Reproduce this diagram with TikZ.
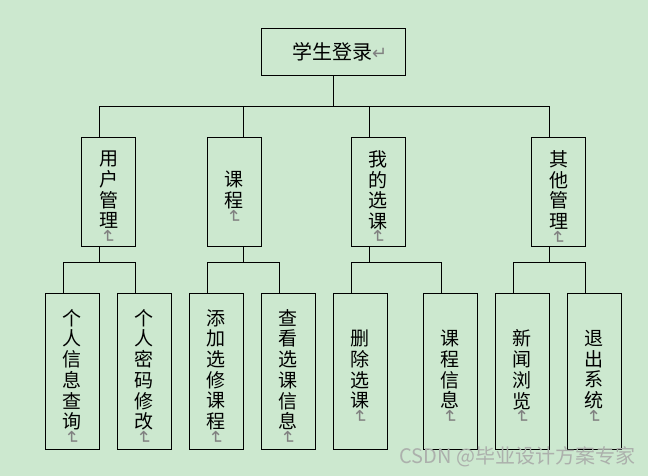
\documentclass[tikz,border=0pt]{standalone}
\usepackage{fontspec}
\usepackage{graphicx}
\usepackage{xcolor}
\usepackage{tikz}
\usetikzlibrary{positioning}
\newfontfamily\cjk{Noto Sans CJK SC}
\newfontfamily\markfont{DejaVu Sans}
\definecolor{bg}{RGB}{204,232,207}
\definecolor{markgray}{RGB}{128,128,128}
\definecolor{wmgray}{RGB}{172,176,172}
\tikzstyle{line} = [draw=black,line width=1pt]
\newcommand{\retmark}{\textcolor{markgray}{\markfont\fontsize{18}{18}\selectfont ↵}}
\newcommand{\vretmark}{\rotatebox[origin=c]{-90}{\retmark}}
\newcommand{\vtext}[1]{\raisebox{-6pt}[\height][\depth]{\parbox{24pt}{\centering #1}}}

\begin{document}
\begin{tikzpicture}[x=1pt,y=-1pt,node distance=72pt,
			main node/.style={rectangle, minimum width=144pt, minimum height=46.7pt, inner sep=0pt, draw=black, line width=1pt, font=\cjk\fontsize{20}{24}\selectfont},
			menu node/.style={rectangle, minimum width=54.4pt, minimum height=109pt, inner sep=0pt, draw=black, line width=1pt, font=\cjk\fontsize{19}{20.7}\selectfont},
			leaf node/.style={menu node, minimum height=156pt}]
			
			\fill[bg] (0,0) rectangle (648,476);
			\useasboundingbox (0,0) rectangle (648,476);
			
			\node[main node] (login) at (333.7,51.7) {\hspace*{12pt}学生登录\retmark};
			
			\node[menu node] (user) at (108.5,191.8) {\vtext{用\\户\\管\\理\\[-6pt]\vretmark}};
			\node[menu node] (course) at (234.3,191.8) {\vtext{课\\程\\[-6pt]\vretmark}};
			\node[menu node] (mine) at (378.4,191.8) {\vtext{我\\的\\选\\课\\[-6pt]\vretmark}};
			\node[menu node] (other) at (558.6,191.8) {\vtext{其\\他\\管\\理\\[-6pt]\vretmark}};
			
			\node[leaf node] (query) at (72.3,371.3) {\vtext{个\\人\\信\\息\\查\\询\\[-6pt]\vretmark}};
			\node[leaf node] (passwd) [right of=query] {\vtext{个\\人\\密\\码\\修\\改\\[-6pt]\vretmark}};
			\node[leaf node] (addsel) [right of=passwd] {\vtext{添\\加\\选\\修\\课\\程\\[-6pt]\vretmark}};
			\node[leaf node] (viewsel) [right of=addsel] {\vtext{查\\看\\选\\课\\信\\息\\[-6pt]\vretmark}};
			\node[leaf node] (delsel) [right of=viewsel] {\vtext{删\\除\\选\\课\\[-6pt]\vretmark}};
			\node[leaf node] (cinfo) [right of=delsel, xshift=18pt] {\vtext{课\\程\\信\\息\\[-6pt]\vretmark}};
			\node[leaf node] (news) [right of=cinfo] {\vtext{新\\闻\\浏\\览\\[-6pt]\vretmark}};
			\node[leaf node] (quit) [right of=news] {\vtext{退\\出\\系\\统\\[-6pt]\vretmark}};
			
			% login to the four menus
			\draw[line] (login.south) -- ++(0,31) -| ([xshift=-9pt]user.north);
			\draw[line] (login.south) -- ++(0,31) -| ([xshift=9pt]course.north);
			\draw[line] (login.south) -- ++(0,31) -| ([xshift=-9pt]mine.north);
			\draw[line] (login.south) -- ++(0,31) -| ([xshift=-9pt]other.north);
			
			% menus to their items
			\draw[line] ([xshift=-9pt]user.south) -- ++(0,16) -| ([xshift=-9pt]query.north);
			\draw[line] ([xshift=-9pt]user.south) -- ++(0,16) -| ([xshift=-9pt]passwd.north);
			
			\draw[line] ([xshift=9pt]course.south) -- ++(0,16) -| ([xshift=-9pt]addsel.north);
			\draw[line] ([xshift=9pt]course.south) -- ++(0,16) -| ([xshift=-9pt]viewsel.north);
			
			\draw[line] ([xshift=-9pt]mine.south) -- ++(0,16) -| ([xshift=-9pt]delsel.north);
			\draw[line] ([xshift=-9pt]mine.south) -- ++(0,16) -| ([xshift=-9pt]cinfo.north);
			
			\draw[line] ([xshift=-9pt]other.south) -- ++(0,16) -| ([xshift=-9pt]news.north);
			\draw[line] ([xshift=-9pt]other.south) -- ++(0,16) -| ([xshift=-9pt]quit.north);
			
			\node[font=\cjk\fontsize{20}{20}\selectfont, text=wmgray] (csdn) at (517.3,456.5) {CSDN @毕业设计方案专家};
			
\end{tikzpicture}
\end{document}
